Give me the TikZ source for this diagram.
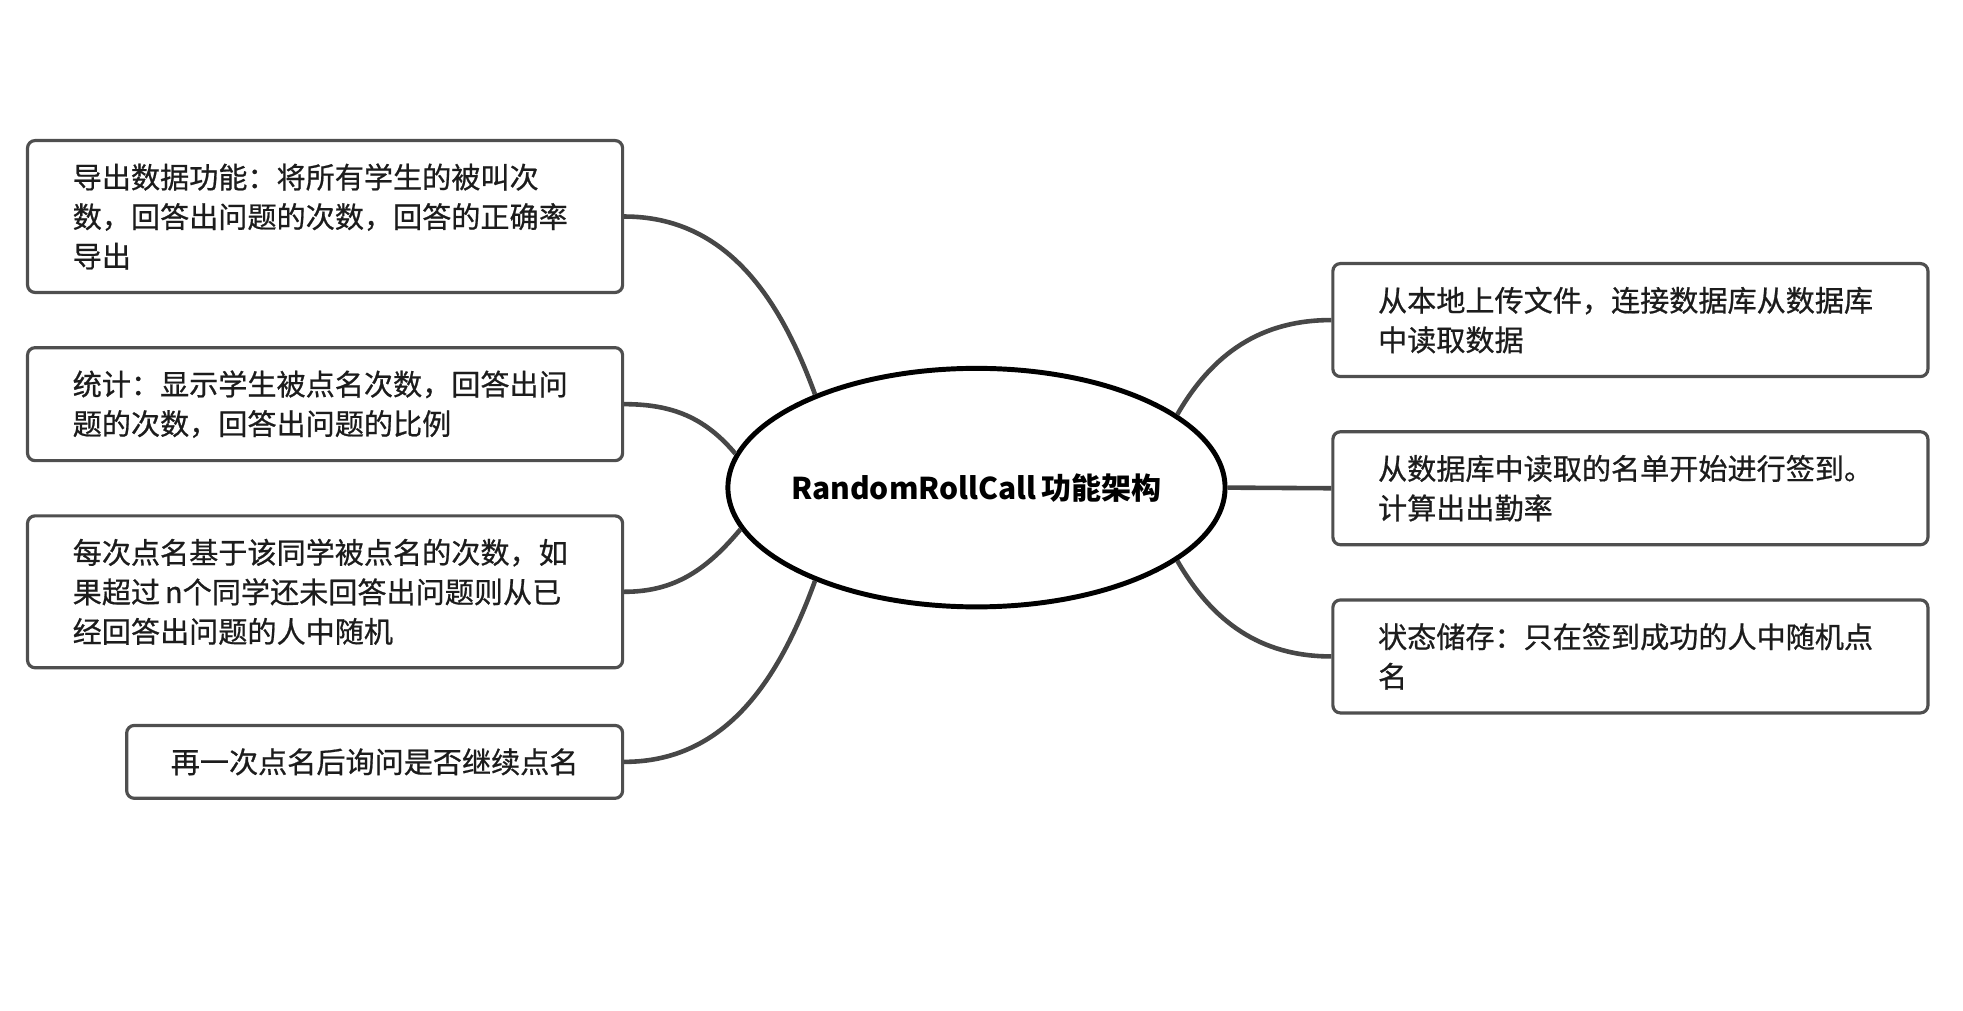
\documentclass[tikz,border=0pt]{standalone}
\usepackage{fontspec}
\setmainfont{Noto Sans CJK SC}
\newfontfamily\itemfont{Noto Sans CJK SC}[FakeBold=0.7]
\usepackage{tikz}
\usetikzlibrary{shapes.geometric}

\definecolor{boxgray}{HTML}{4F4F4F}
\definecolor{linegray}{HTML}{474747}
\definecolor{txt}{HTML}{1C1C1C}

\begin{document}
\begin{tikzpicture}[x=0.025cm, y=-0.025cm,
	item/.style={shape=rectangle, draw=boxgray, line width=1.8pt, rounded corners=0.15cm, text width=10.05cm, inner xsep=0.9cm, inner ysep=0pt, align=left, text=txt, font=\itemfont\fontsize{16.5pt}{22.4pt}\selectfont},
	link/.style={draw=linegray, line width=2.6pt}]
	\useasboundingbox (0,0) rectangle (1564,805);

	\node[shape=ellipse, draw=black, line width=2.8pt, minimum width=9.9cm, minimum height=4.75cm, inner sep=0pt, font=\fontsize{17pt}{20pt}\selectfont\bfseries] (r) at (778,388.5) {\makebox[0pt]{RandomRollCall\,功能架构}};

	\node[item, minimum height=3.025cm] (a) at (259,172.5) {导出数据功能：将所有学生的被叫次\\数，回答出问题的次数，回答的正确率\\导出};
	\node[item, minimum height=2.25cm] (b) at (259,322) {统计：显示学生被点名次数，回答出问\\题的次数，回答出问题的比例};
	\node[item, minimum height=3.025cm] (c) at (259,471.5) {每次点名基于该同学被点名的次数，如\\果超过\,n个同学还未回答出问题则从已\\经回答出问题的人中随机};
	\node[item, text width=8.375cm, inner xsep=0.75cm, align=center, minimum height=1.45cm] (d) at (298.5,607) {再一次点名后询问是否继续点名};
	\node[item, minimum height=2.25cm] (e) at (1299,255) {从本地上传文件，连接数据库从数据库\\中读取数据};
	\node[item, minimum height=2.25cm] (f) at (1299,389) {从数据库中读取的名单开始进行签到。\\计算出出勤率};
	\node[item, minimum height=2.25cm] (g) at (1299,523) {状态储存：只在签到成功的人中随机点\\名};

	\path (r.150) edge[link, out=110, in=0] (a.east);
	\path (r.172) edge[link, out=130, in=0] (b.east);
	\path (r.190) edge[link, out=-130, in=0] (c.east);
	\path (r.210) edge[link, out=-110, in=0] (d.east);
	\path (r.20) edge[link, out=60, in=180] (e.west);
	\path (r.0) edge[link] (f.west);
	\path (r.-20) edge[link, out=-60, in=180] (g.west);
\end{tikzpicture}
\end{document}
